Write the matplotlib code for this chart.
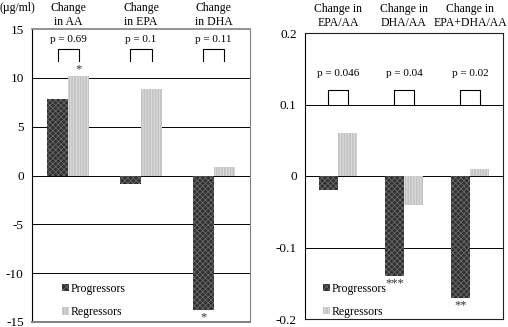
import matplotlib
matplotlib.use("Agg")
import matplotlib.pyplot as plt
from matplotlib.patches import Patch
import numpy as np

plt.rcParams['font.family'] = ['Liberation Serif', 'DejaVu Serif']
plt.rcParams['font.size'] = 8
plt.rcParams['hatch.linewidth'] = 0.6

# left panel: absolute changes (ug/ml)
abs_titles = ["Change\nin AA", "Change\nin EPA", "Change\nin DHA"]
abs_prog = [7.8, -0.9, -13.8]
abs_regr = [10.2, 8.9, 0.9]
abs_p = ["p = 0.69", "p = 0.1", "p = 0.11"]
abs_ticks = [-15, -10, -5, 0, 5, 10, 15]
abs_stars = [("regr", 0, "*"), ("prog", 2, "*")]

# right panel: ratio changes
ratio_titles = ["Change in\nEPA/AA", "Change in\nDHA/AA", "Change in\nEPA+DHA/AA"]
ratio_prog = [-0.02, -0.14, -0.17]
ratio_regr = [0.06, -0.04, 0.01]
ratio_p = ["p = 0.046", "p = 0.04", "p = 0.02"]
ratio_ticks = [-0.2, -0.1, 0, 0.1, 0.2]
ratio_tick_labels = ["-0.2", "-0.1", "0", "0.1", "0.2"]
ratio_stars = [("prog", 1, "***"), ("prog", 2, "**")]

PROG_FACE, PROG_HATCH = "#303030", "#6a6a6a"
REGR_FACE, REGR_HATCH = "#c4c4c4", "#e2e2e2"
W = 0.29


def draw_bars(ax, prog, regr):
    x = np.arange(len(prog))
    for vals, off, face, hc in [(prog, -W / 2, PROG_FACE, PROG_HATCH),
                                (regr, W / 2, REGR_FACE, REGR_HATCH)]:
        ax.bar(x + off, vals, W, color=face, linewidth=0, zorder=2)
        ax.bar(x + off, vals, W, facecolor="none", edgecolor=hc, linewidth=0,
               hatch="xxxxxx" if face == PROG_FACE else "||||||", zorder=3)
    return x


def draw_brackets(ax, x, labels, lo, hi, ptxt):
    for xi, lab in zip(x, labels):
        ax.plot([xi - W / 2, xi - W / 2, xi + W / 2, xi + W / 2], [lo, hi, hi, lo],
                color="black", lw=0.8, zorder=4)
        ax.text(xi, ptxt, lab, ha="center", va="center", fontsize=8)


def draw_stars(ax, stars, prog, regr, gap):
    for which, i, s in stars:
        if which == "prog":
            v, xi = prog[i], i - W / 2
        else:
            v, xi = regr[i], i + W / 2
        if v >= 0:
            ax.text(xi, v + gap, s, ha="center", va="bottom", fontsize=9, color="#333")
        else:
            ax.text(xi, v - gap, s, ha="center", va="top", fontsize=9, color="#333")


def style(ax, ticks, labels, ylim, frame_color):
    ax.set_xlim(-0.5, 2.5)
    ax.set_ylim(*ylim)
    ax.set_xticks([])
    ax.set_yticks(ticks)
    ax.set_yticklabels(labels)
    ax.tick_params(axis="y", length=0, pad=6, labelsize=9.5)
    for t in ticks[1:-1]:
        ax.axhline(t, color="black", lw=0.7, zorder=1)
    ax.spines["left"].set_color("black")
    for s in ["top", "right", "bottom"]:
        ax.spines[s].set_color(frame_color)
    ax.spines["left"].set_linewidth(0.8)


def add_legend(ax, x, y):
    handles = [Patch(facecolor=PROG_FACE, edgecolor=PROG_HATCH, hatch="xxxxx", lw=0),
               Patch(facecolor=REGR_FACE, edgecolor=REGR_HATCH, hatch="|||||", lw=0)]
    ax.legend(handles, ["Progressors", "Regressors"], loc="lower left",
              bbox_to_anchor=(x, y), frameon=False, handlelength=0.55,
              handleheight=0.55, handletextpad=0.2, labelspacing=0.95, fontsize=8.5,
              borderaxespad=0.3)


fig = plt.figure(figsize=(5.08, 3.27), dpi=100)

ax1 = fig.add_axes([32 / 508, 5 / 327, 218 / 508, 293 / 327])
x1 = draw_bars(ax1, abs_prog, abs_regr)
style(ax1, abs_ticks, [str(t) for t in abs_ticks], (-15, 15), "#808080")
ax1.spines["bottom"].set_linewidth(1.4)
ax1.spines["top"].set_linewidth(1.2)
draw_brackets(ax1, x1, abs_p, 11.7, 13.0, 13.9)
draw_stars(ax1, abs_stars, abs_prog, abs_regr, 0.1)
add_legend(ax1, 0.1, -0.015)
for xi, t in zip(x1, abs_titles):
    ax1.text(xi, 1.047, t, transform=ax1.get_xaxis_transform(), ha="center",
             va="center", fontsize=8.5, linespacing=1.2)
fig.text(0.0, 1 - 8 / 327, "(\u00b5g/ml)", ha="left", va="center", fontsize=8.5)

ax2 = fig.add_axes([305 / 508, 8 / 327, 198 / 508, 286 / 327])
x2 = draw_bars(ax2, ratio_prog, ratio_regr)
style(ax2, ratio_ticks, ratio_tick_labels, (-0.2, 0.2), "#222222")
draw_brackets(ax2, x2, ratio_p, 0.1, 0.12, 0.144)
draw_stars(ax2, ratio_stars, ratio_prog, ratio_regr, 0.002)
add_legend(ax2, 0.05, -0.025)
for xi, t in zip(x2, ratio_titles):
    ax2.text(xi, 1.06, t, transform=ax2.get_xaxis_transform(), ha="center",
             va="center", fontsize=8.5, linespacing=1.2)

fig.savefig("out.png", dpi=100)
